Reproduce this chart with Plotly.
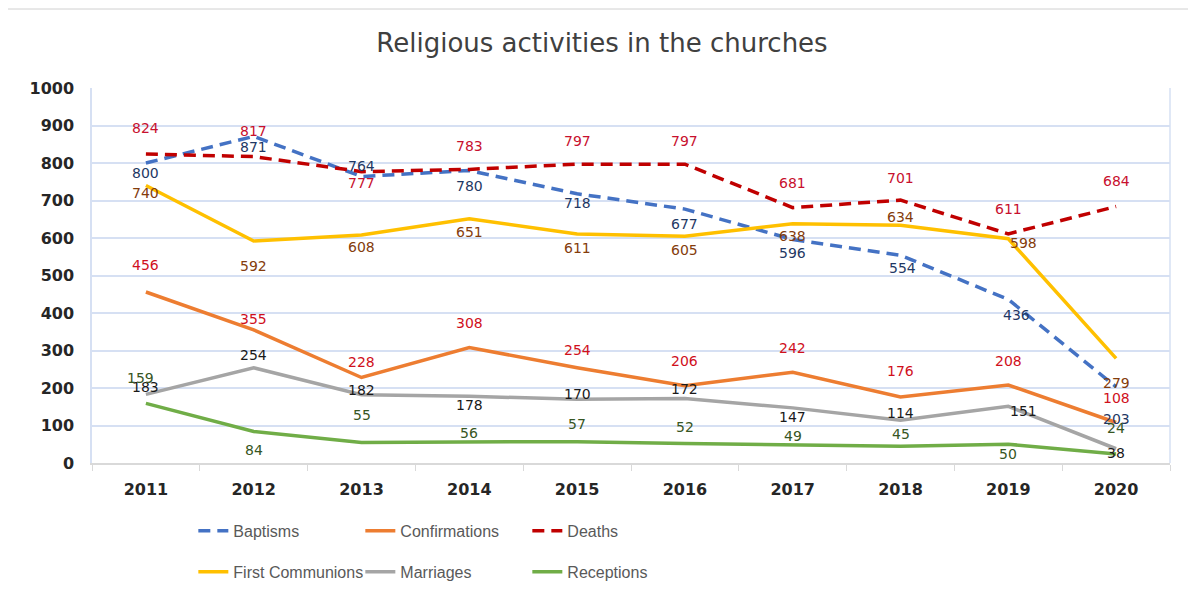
import plotly.graph_objects as go

years = ["2011", "2012", "2013", "2014", "2015", "2016", "2017", "2018", "2019", "2020"]
baptisms = [800, 871, 764, 780, 718, 677, 596, 554, 436, 203]
confirmations = [456, 355, 228, 308, 254, 206, 242, 176, 208, 108]
deaths = [824, 817, 777, 783, 797, 797, 681, 701, 611, 684]
first_communions = [740, 592, 608, 651, 611, 605, 638, 634, 598, 279]
marriages = [183, 254, 182, 178, 170, 172, 147, 114, 151, 38]
receptions = [159, 84, 55, 56, 57, 52, 49, 45, 50, 24]

# label placement (pixels below (+) / above (-) the line point) -- styling only
off_bap = [10, 11, -11, 15, 9, 15, 13, 13, 15, 32]
off_con = [-27, -11, -16, -25, -18, -25, -24, -26, -24, -25]
off_dea = [-26, -26, 11, -23, -23, -23, -25, -22, -25, -26]
off_fc = [7, 25, 12, 13, 14, 14, 12, -8, 4, 25]
off_mar = [-7, -13, -5, 9, -5, -10, 9, -7, 5, 4]
off_rec = [-25, 18, -27, -9, -18, -17, -9, -12, 10, -26]
xoff_bap = [0, 0, 0, 0, 0, 0, 0, 2, 8, 0]
xoff_fc = [0, 0, 0, 0, 0, 0, 0, 0, 15, 0]
xoff_mar = [0, 0, 0, 0, 0, 0, 0, 0, 15, 0]
xoff_rec = [-5, 0, 0, 0, 0, 0, 0, 0, 0, 0]
zero = [0] * 10

series = [
    # name, values, line colour, label colour, dash, label y offsets, x offsets, legend
    ("Baptisms", baptisms, "#4472C4", "#1F3864", "12px,7px", off_bap, xoff_bap, "legend"),
    ("Confirmations", confirmations, "#ED7D31", "#D0101C", None, off_con, zero, "legend"),
    ("Deaths", deaths, "#C00000", "#C8102E", "12px,7px", off_dea, zero, "legend"),
    ("First Communions", first_communions, "#FFC000", "#843C0C", None, off_fc, xoff_fc, "legend2"),
    ("Marriages", marriages, "#A5A5A5", "#1A1A1A", None, off_mar, xoff_mar, "legend2"),
    ("Receptions", receptions, "#70AD47", "#375623", None, off_rec, xoff_rec, "legend2"),
]

fig = go.Figure()
annotations = []
for name, vals, col, lcol, dash, offs, xoffs, leg in series:
    fig.add_trace(go.Scatter(
        x=years, y=vals, name=name, mode="lines",
        line=dict(color=col, width=3.5, dash=dash),
        legend=leg, hoverinfo="x+y+name",
    ))
    for i, (v, o, xo) in enumerate(zip(vals, offs, xoffs)):
        # on a category axis a numeric position is the category index
        annotations.append(dict(
            x=i, y=v, xref="x", yref="y", text=str(v), showarrow=False,
            xanchor="center", yanchor="middle", yshift=-o, xshift=xo,
            font=dict(family="DejaVu Sans", size=14, color=lcol),
        ))

legend_common = dict(
    orientation="h", xanchor="left", yanchor="middle",
    font=dict(family="Liberation Sans, Arial, sans-serif", size=16, color="#595959"),
    entrywidth=122, entrywidthmode="pixels", itemwidth=30,
    bgcolor="rgba(0,0,0,0)", tracegroupgap=0,
)

W, H = 1188, 587
L, R, TOP, BOT = 84, 26, 80, 132
PW, PH = W - L - R, H - TOP - BOT

fig.update_layout(
    width=W, height=H,
    margin=dict(l=L, r=R, t=TOP, b=BOT, autoexpand=False),
    paper_bgcolor="white", plot_bgcolor="white",
    title=dict(text="Religious activities in the churches", x=0.5, xanchor="center",
               y=1 - 35 / H, yanchor="middle",
               font=dict(family="DejaVu Sans", size=26, color="#404040")),
    showlegend=True,
    legend=dict(x=0.094, y=-0.181, **legend_common),
    legend2=dict(x=0.094, y=-0.29, **legend_common),
    xaxis=dict(type="category", range=[-0.5, 9.5], showgrid=False,
               showline=True, linecolor="#D9D9D9", linewidth=1.5,
               ticks="outside", tickson="boundaries", ticklen=6, tickcolor="#D9D9D9",
               ticklabelstandoff=11,
               tickfont=dict(family="DejaVu Sans", size=16, color="#262626", weight="bold")),
    yaxis=dict(range=[0, 1000], dtick=100, showgrid=True, gridcolor="#D6E0F3", gridwidth=1.5,
               showline=True, linecolor="#D6E0F3", linewidth=1.5, zeroline=False,
               ticks="", ticklabelstandoff=13,
               tickfont=dict(family="DejaVu Sans", size=16, color="#262626", weight="bold")),
    annotations=annotations,
    shapes=[
        dict(type="line", xref="paper", yref="paper", x0=1, x1=1, y0=0, y1=1,
             line=dict(color="#D6E0F3", width=1.5)),
        dict(type="line", xref="paper", yref="paper", x0=-86 / PW, x1=1.1,
             y0=(PH + 80 - 1) / PH, y1=(PH + 80 - 1) / PH, line=dict(color="#D0D0D0", width=1)),
        dict(type="line", xref="paper", yref="paper", x0=-85 / PW, x1=-85 / PW,
             y0=(PH + 80 - 1) / PH, y1=-0.35, line=dict(color="#D0D0D0", width=1)),
    ],
)

fig.write_html("out.html")
